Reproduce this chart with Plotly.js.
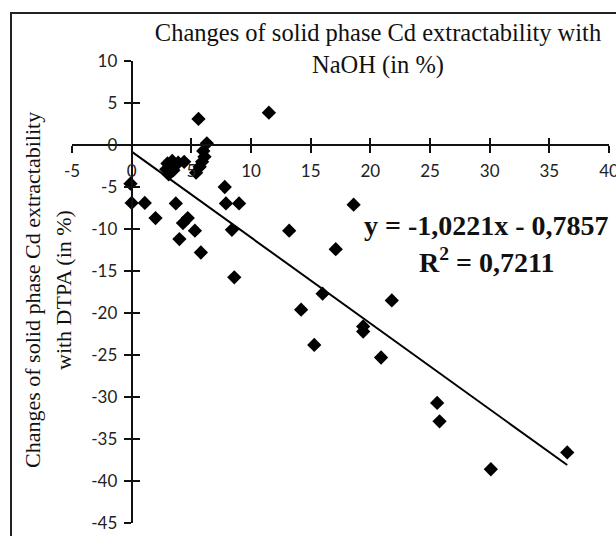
<!DOCTYPE html>
<html>
<head>
<meta charset="utf-8">
<script src="https://cdn.plot.ly/plotly-3.0.1.min.js"></script>
<style>html,body{margin:0;padding:0;background:#fff;}#chart{width:616px;height:536px;}</style>
</head>
<body>
<div id="chart"></div>
<script>
// Changes of solid phase Cd extractability with NaOH (x) vs with DTPA (y), in %
const naohX = [-0.1, 0.0, 1.1, 2.0, 3.0, 3.4, 3.9, 4.4, 2.9, 3.5, 3.1, 5.4, 5.7, 5.9, 6.1, 6.0, 6.3, 5.6,
               3.7, 4.7, 4.3, 5.3, 4.0, 5.8, 7.8, 7.9, 9.0, 8.4, 8.6, 11.5, 13.2, 17.1, 18.6, 16.0,
               14.2, 21.8, 19.4, 19.4, 15.3, 20.9, 25.6, 25.8, 30.1, 36.5];
const dtpaY  = [-4.6, -6.9, -6.9, -8.7, -2.2, -1.9, -2.1, -2.0, -2.9, -3.0, -3.5, -3.3, -2.6, -2.0, -1.4, -0.7, 0.2, 3.1,
               -6.95, -8.7, -9.3, -10.2, -11.2, -12.8, -5.0, -6.95, -6.95, -10.1, -15.75, 3.85, -10.2, -12.4, -7.1, -17.7,
               -19.6, -18.5, -21.6, -22.2, -23.8, -25.3, -30.7, -32.9, -38.6, -36.6];
// Linear trend line as drawn (y = -1,0221x - 0,7857)
const trendX = [0, 36.5];
const trendY = [-0.79, -38.1];
const xTicks = [-5, 0, 5, 10, 15, 20, 25, 30, 35, 40];
const xTickText = ['-5', '0', '5', '10', '15', '20', '25', '30', '35', '40'];
const yTicks = [10, 5, 0, -5, -10, -15, -20, -25, -30, -35, -40, -45];
const yTickText = ['10', '5', '0', '-5', '-10', '-15', '-20', '-25', '-30', '-35', '-40', '-45'];
const titleText = 'Changes of solid phase Cd extractability with<br>NaOH (in %)';
const yTitle1 = 'Changes of solid phase Cd extractability';
const yTitle2 = 'with DTPA (in %)';
const eqText = 'y = -1,0221x - 0,7857';
const r2Text = 'R<sup>2</sup> = 0,7211';

const xRange = [-5.0001, 40.0001], yRange = [-45.0001, 10.0001];
const xPos = (0 - yRange[0]) / (yRange[1] - yRange[0]);   // where x axis crosses y=0
const yPos = (0 - xRange[0]) / (xRange[1] - xRange[0]);   // where y axis crosses x=0

const tickFont = {family: 'Lato, "Open Sans", sans-serif', size: 17, color: '#222'};
const serif = 'Liberation Serif, "DejaVu Serif", serif';

const traces = [
  {x: naohX, y: dtpaY, type: 'scatter', mode: 'markers',
   marker: {symbol: 'diamond', size: 11, color: '#000'}, xaxis: 'x', yaxis: 'y', hoverinfo: 'x+y'},
  {x: trendX, y: trendY, type: 'scatter', mode: 'lines',
   line: {color: '#000', width: 2}, xaxis: 'x', yaxis: 'y'},
  {x: [], y: [], type: 'scatter', mode: 'markers', xaxis: 'x2', yaxis: 'y2', hoverinfo: 'skip'}
];

const baseX = {range: xRange, tickmode: 'array', tickvals: xTicks, ticktext: xTickText, showgrid: false, zeroline: false,
  anchor: 'free', position: xPos, fixedrange: true, ticklabeloverflow: 'allow'};
const baseY = {range: yRange, tickmode: 'array', tickvals: yTicks, ticktext: yTickText, showgrid: false, zeroline: false,
  anchor: 'free', position: yPos, fixedrange: true, ticklabeloverflow: 'allow'};

const layout = {
  width: 616, height: 536,
  margin: {l: 72, r: 7, t: 61, b: 13},
  paper_bgcolor: '#fff', plot_bgcolor: '#fff',
  showlegend: false,
  title: {text: titleText, font: {family: serif, size: 24.5, color: '#111'}, automargin: false,
    x: 378 / 616, xanchor: 'center', xref: 'container', y: 1 - 41 / 536, yanchor: 'middle', yref: 'container'},
  xaxis: Object.assign({}, baseX, {showline: true, linecolor: '#111', linewidth: 2,
    ticks: 'outside', ticklen: 7, tickwidth: 2, tickcolor: '#111', tickfont: tickFont, ticklabelstandoff: 4}),
  yaxis: Object.assign({}, baseY, {showline: true, linecolor: '#111', linewidth: 2,
    ticks: 'outside', ticklen: 7, tickwidth: 2, tickcolor: '#111', tickfont: tickFont, ticklabelstandoff: 3}),
  xaxis2: Object.assign({}, baseX, {overlaying: 'x', showline: false, ticks: 'inside', ticklen: 7,
    tickwidth: 2, tickcolor: '#111', showticklabels: false}),
  yaxis2: Object.assign({}, baseY, {overlaying: 'y', showline: false, ticks: 'inside', ticklen: 7,
    tickwidth: 2, tickcolor: '#111', showticklabels: false}),
  annotations: [
    {text: yTitle1, xref: 'paper', yref: 'paper', x: (32 - 72) / 537, y: (523 - 290) / 462,
     xanchor: 'center', yanchor: 'middle', textangle: -90, showarrow: false,
     font: {family: serif, size: 22, color: '#111'}},
    {text: yTitle2, xref: 'paper', yref: 'paper', x: (63 - 72) / 537, y: (523 - 290) / 462,
     xanchor: 'center', yanchor: 'middle', textangle: -90, showarrow: false,
     font: {family: serif, size: 22, color: '#111'}},
    {text: eqText, xref: 'paper', yref: 'paper', x: (486 - 72) / 537, y: (523 - 225) / 462,
     xanchor: 'center', yanchor: 'middle', showarrow: false,
     font: {family: serif, size: 28, color: '#111', weight: 'bold'}},
    {text: r2Text, xref: 'paper', yref: 'paper', x: (486 - 72) / 537, y: (523 - 260) / 462,
     xanchor: 'center', yanchor: 'middle', showarrow: false,
     font: {family: serif, size: 28, color: '#111', weight: 'bold'}}
  ],
  shapes: [
    {type: 'rect', xref: 'paper', yref: 'paper', x0: (11 - 72) / 537, x1: (625 - 72) / 537,
     y0: (523 - 545) / 462, y1: (523 - 13) / 462, line: {color: '#222', width: 2}, layer: 'below'}
  ]
};

Plotly.newPlot('chart', traces, layout, {staticPlot: true, displayModeBar: false});
</script>
</body>
</html>
